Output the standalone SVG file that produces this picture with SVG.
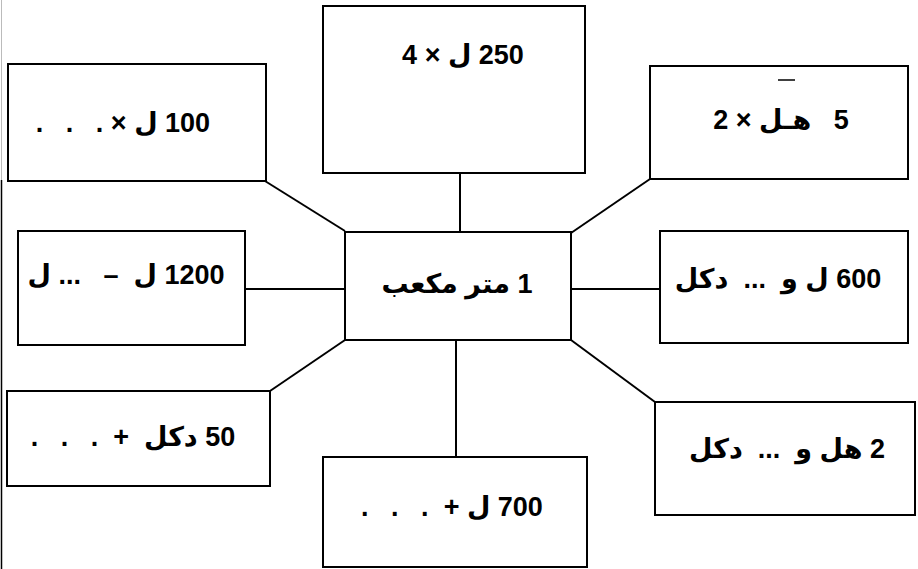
<svg xmlns="http://www.w3.org/2000/svg" width="918" height="569" viewBox="0 0 918 569">
<style>
.box{fill:#fff;stroke:#000;stroke-width:2}
.lbl{font-family:"Liberation Sans","DejaVu Sans",sans-serif;font-weight:bold;font-size:27px;fill:#000;text-anchor:middle;direction:rtl;white-space:pre}
.con line{stroke:#000;stroke-width:2}
</style>
<rect width="918" height="569" fill="#fff"/>
<line x1="1.5" y1="180" x2="1.5" y2="569" stroke="#000" stroke-width="1.5"/>
<line x1="1.5" y1="0" x2="1.5" y2="180" stroke="#bbb" stroke-width="1"/>
<g id="connectors" class="con">
<line x1="265" y1="181" x2="345" y2="231"/>
<line x1="460" y1="173" x2="460" y2="231"/>
<line x1="650" y1="179" x2="571" y2="233"/>
<line x1="245" y1="289" x2="345" y2="289"/>
<line x1="571" y1="289" x2="660" y2="289"/>
<line x1="345" y1="340" x2="270" y2="391"/>
<line x1="456" y1="340" x2="456" y2="457"/>
<line x1="571" y1="340" x2="655" y2="402"/>
</g>
<g id="n-center"><rect class="box" x="345" y="232" width="226" height="108"/><text class="lbl" x="457" y="293">1 متر مكعب</text></g>
<g id="n-top-left"><rect class="box" x="8" y="64" width="258" height="117"/><text class="lbl" x="123" y="132">100 ل × .   .   .</text></g>
<g id="n-top"><rect class="box" x="323" y="6" width="262" height="167"/><text class="lbl" x="463" y="64">250 ل × 4</text></g>
<g id="n-top-right"><rect class="box" x="650" y="66" width="258" height="113"/><text class="lbl" x="781" y="129">5   هـل × 2</text><line x1="778" y1="80" x2="795" y2="80" stroke="#000" stroke-width="1.5"/></g>
<g id="n-left"><rect class="box" x="18" y="231" width="227" height="114"/><text class="lbl" x="126" y="284">1200 ل  –   ... ل</text></g>
<g id="n-right"><rect class="box" x="660" y="231" width="248" height="112"/><text class="lbl" x="778" y="288">600 ل و  ...  دكل</text></g>
<g id="n-bottom-left"><rect class="box" x="7" y="391" width="263" height="95"/><text class="lbl" x="133" y="446">50 دكل  +  .   .   .</text></g>
<g id="n-bottom"><rect class="box" x="323" y="457" width="264" height="110"/><text class="lbl" x="452" y="516">700 ل +  .   .   .</text></g>
<g id="n-bottom-right"><rect class="box" x="655" y="402" width="260" height="113"/><text class="lbl" x="787" y="458">2 هل و  ...  دكل</text></g>
</svg>
